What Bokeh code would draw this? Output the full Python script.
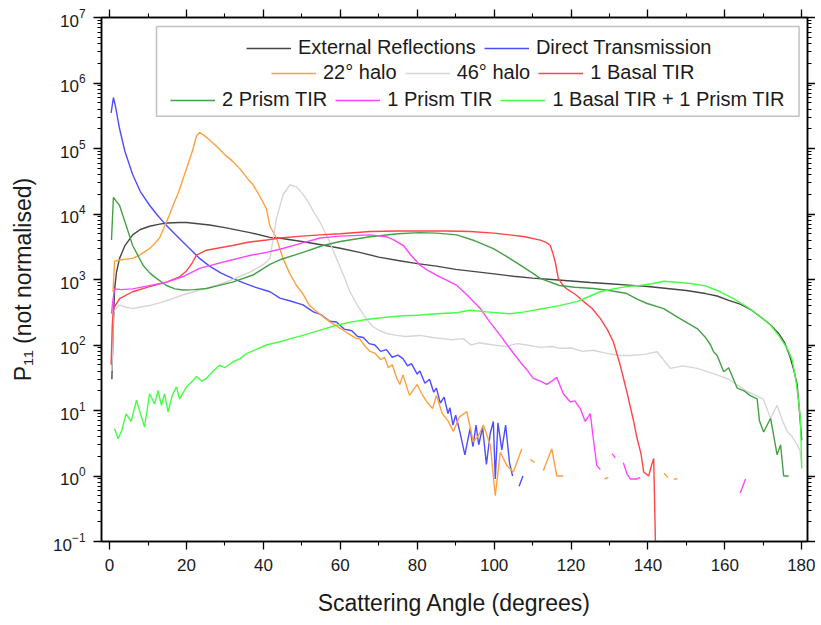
import math
from bokeh.plotting import figure
from bokeh.models import (Range1d, LogAxis, LinearAxis, FixedTicker, Legend,
                          LegendItem, BoxAnnotation, CustomJSTickFormatter)
from bokeh.embed import file_html
from bokeh.resources import INLINE

nan = float("nan")

# ---------------- data ----------------
ext_x = [0.6, 0.9, 1.3, 1.8, 2.6, 4, 6, 8, 10.4, 13, 15, 18.2, 20, 23, 26, 30, 36.5, 41.7, 44, 50, 55, 60, 65, 70,
         75, 80, 85, 90, 95, 100, 105, 110, 115, 120, 125, 130, 135, 140, 145, 150, 155, 158, 161, 164, 167, 170,
         172, 174, 175.5, 177, 178, 178.8, 179.4, 180]
ext_y = [30, 150, 700, 1300, 2100, 3300, 4800, 5800, 6500, 7000, 7300, 7400, 7400, 7100, 6800, 6200, 5200, 4400,
         4300, 3800, 3400, 3000, 2600, 2200, 1950, 1750, 1600, 1430, 1320, 1220, 1120, 1050, 1000, 950, 900, 860,
         820, 780, 730, 680, 610, 560, 480, 420, 340, 250, 200, 150, 110, 65, 40, 25, 10, 3.5]

dir_x = [0.4, 1.0, 1.5, 2.6, 4, 6, 8, 10.4, 12.5, 14.8, 17.5, 20, 23.4, 26, 29, 32, 35, 38, 41.7, 44.3, 47, 50.3,
         53, 55, 57.3, 59, 61, 63, 64.5, 66, 67.5, 69, 70.5, 72, 73.5, 75, 76.3, 77.5, 78.5, 80, 80.7, 82, 83.2, 84.3,
         85, 86, 87, 88, 88.5, 89.3, 90, 91, 92.4, 93.75, 94.5, 95.3, 96, 97, 98, 99, 99.8, 100.3, 101, 102, 103,
         104, 104.8, nan, 106.5, 107.5]
dir_y = [3.5e5, 6.0e5, 4.5e5, 2.0e5, 9.0e4, 4.0e4, 2.2e4, 1.36e4, 9500, 6700, 4600, 3300, 2100, 1600, 1250, 1040,
         880, 760, 650, 520, 470, 410, 320, 290, 230, 225, 175, 165, 135, 130, 105, 100, 80, 85, 65, 70, 62, 48, 52,
         36, 40, 26, 30, 19, 22, 13, 16, 9, 11, 6, 8.5, 5, 2.1, 5.3, 2.8, 6, 3, 5.5, 1.5, 4.5, 6.8, 0.9, 6.5, 2.5, 6,
         1.6, 1.0, nan, 0.7, 1.0]

h22_x = [0.9, 1.3, 3, 6, 8, 10.4, 12, 13, 14.3, 15.5, 16.5, 18, 20, 21.5, 22.6, 23.4, 24.5, 26, 28, 30, 32.1, 34,
         36, 37.3, 39, 40.8, 41.7, 43.4, 45.1, 46.8, 48.6, 50.3, 52, 54.5, 57.3, 60, 62, 64.2, 65, 66.5, 67.7, 69,
         70.5, 71.5, 72.5, 73.5, 74.7, 75.5, 76.3, 78, 80, 81.2, 82.5, 84, 85, 86.5, 88, 89.4, 91, 92.9, 94.6, 96,
         97.2, 99, 100.3, 101.6, 103.3, 105, 107.2, nan, 109.4, 110.5, nan, 112.8, 113.7, 115, 116.3, 118, nan,
         128.7, 129.7, nan, 144.2, 145.2, nan, 146.7, 147.6]
h22_y = [650, 1900, 2000, 2100, 2400, 2960, 3700, 4300, 6500, 9500, 1.35e4, 2.2e4, 4.9e4, 9.0e4, 1.55e5, 1.75e5,
         1.6e5, 1.35e5, 1.05e5, 8.0e4, 6.3e4, 4.8e4, 3.4e4, 2.8e4, 1.9e4, 1.2e4, 6500, 4300, 2100, 1250, 810, 600,
         400, 300, 225, 180, 150, 125, 125, 95, 80, 75, 60, 65, 45, 50, 31, 25, 35, 17, 25, 18, 13.5, 10.7, 17, 9,
         7, 4.8, 8, 9.6, 3.3, 4.2, 6, 3, 0.5, 2.3, 1.45, 1.15, 2.6, nan, 1.8, 1.6, nan, 1.2, 1.67, 2.6, 1.0, 1.0,
         nan, 0.9, 0.95, nan, 1.1, 0.95, nan, 0.9, 0.9]

h46_x = [0.6, 1.0, 2.6, 4, 6, 8, 10.4, 13, 16, 19, 23, 27.8, 32, 36.5, 40, 41.7, 42.5, 43.4, 45.1, 46.9, 48.6, 50,
         51.2, 53, 54.7, 57, 59, 61, 62.5, 64.5, 66.8, 68.5, 70.3, 72, 74.7, 77, 80.7, 84, 86.8, 89, 92, 94, 96,
         99.8, 103, 106, 108.5, 112, 115, 117, 120, 123, 125.8, 129, 132.8, 135.4, 139, 142.4, 144, 145.8, 149,
         152.8, 155, 158, 161, 163, 165.8, 168, 170, 171.9, 173.6, 175, 176.2, 177.5, 178.8, 179.5, 180]
h46_y = [40, 320, 410, 380, 360, 380, 400, 440, 500, 580, 680, 810, 1000, 1300, 1700, 2100, 4000, 8500, 1.95e4,
         2.8e4, 2.6e4, 2.1e4, 1.7e4, 1.1e4, 7600, 4000, 2100, 1100, 650, 400, 250, 190, 165, 150, 140, 135, 140,
         130, 125, 120, 125, 100, 108, 100, 95, 105, 100, 92, 95, 89, 90, 80, 83, 75, 69, 69, 72, 79, 60, 44, 48,
         44, 40, 35, 30, 25, 19.5, 17, 15, 7.6, 12, 7, 4.8, 4, 3, 2.5, 1.5]

bas_x = [0.4, 0.7, 1.0, 2.6, 6, 10.4, 14.8, 18.2, 20, 21.5, 22.6, 25.2, 28, 32, 36, 40.8, 44.3, 50, 54.7, 60,
         67.7, 75, 80.7, 88, 93.75, 100, 104, 108, 112, 113.5, 114.6, 115.3, 115.9, 116.7, 118, 118.9, 121, 123.3,
         125.5, 127.6, 129.5, 131, 132.8, 134.5, 136.3, 137.2, 138.2, 138.9, 140.2, 141, 141.5, 142.2]
bas_y = [50, 200, 360, 510, 650, 780, 910, 1100, 1350, 1800, 2350, 2800, 3000, 3300, 3700, 4000, 4300, 4600,
         4800, 5000, 5400, 5500, 5500, 5500, 5400, 5100, 4800, 4500, 4000, 3700, 3300, 2500, 1850, 1040, 800, 720,
         600, 460, 360, 255, 170, 112, 49, 19.5, 6.8, 3.7, 2.2, 1.15, 1.0, 1.5, 1.85, 0.02]

p2_x = [0.5, 1.0, 1.6, 2.6, 4.3, 6, 8.7, 10.5, 12.2, 14.8, 17, 19.1, 22, 25.2, 28, 32, 37.3, 41.7, 44.3, 50.3, 55.5,
        60, 67.7, 75, 80.7, 85, 90.3, 95, 99.8, 103, 106.8, 110, 112, 117, 121, 125.9, 130, 134.5, 137.2, 139.8,
        144.1, 148, 152.8, 155, 156.3, 157, 158, 159.7, 161, 163.2, 165, 166.5, 168.4, 169, 170.1, 171.9, 173.6,
        174.5, 175.3, 176.6]
p2_y = [4000, 1.8e4, 1.6e4, 1.35e4, 6700, 3300, 1650, 1250, 1040, 810, 720, 690, 700, 730, 800, 910, 1170, 1700,
        2000, 2600, 3300, 3800, 4500, 5000, 5200, 5100, 4800, 3900, 2950, 2300, 1660, 1250, 1040, 810, 760, 730,
        680, 610, 500, 430, 360, 260, 178, 130, 100, 80, 69, 39, 45, 22, 20, 17, 15, 7, 4.7, 7.6, 2.1, 3, 1.0, 1.0]

p1_x = [0.5, 0.8, 1.3, 3, 6, 10, 14.8, 19, 23.4, 28, 32, 36, 40.8, 44.3, 50, 54.7, 60, 67.7, 72, 74, 76.4, 78.5,
        80.7, 83, 85, 88, 90.3, 93, 96.4, 99, 101.6, 104, 106.8, 108.5, 110.2, 112, 113.7, 115, 116.3, 118, 119.8,
        121, 122.4, 123.7, 125, 126, 126.7, 127.6, nan, 130.7, 131.5, nan, 133.6, 134.5, 135.4, 137.2, 138, nan,
        164, 165.4]
p1_y = [300, 450, 720, 700, 720, 800, 910, 1100, 1480, 1750, 2000, 2300, 2600, 2900, 3600, 4300, 4600, 4800, 4500,
        4000, 3300, 2300, 1660, 1350, 1170, 950, 810, 580, 360, 220, 140, 90, 55, 42, 31, 28, 25, 28, 32, 18, 13.5,
        14, 10.7, 6.8, 9, 3, 1.45, 1.25, nan, 2.2, 1.9, nan, 1.6, 1.1, 0.9, 0.9, 0.95, nan, 0.55, 0.9]

bp_x = [1.3, 2.2, 3.2, 4.3, 5.6, 7, 8, 9.1, 10.4, 11.7, 12.6, 13.5, 14.3, 15.2, 16.3, 17.4, 18.2, 20, 21.3, 22.6,
        24, 25.2, 27, 28.6, 30, 32, 34, 35.6, 38, 40.8, 44.3, 47, 50.3, 55, 59, 63, 67.7, 72, 76.4, 80, 85, 90,
        93.75, 98, 104, 108, 112.8, 117, 121.5, 125, 127.6, 131, 134.5, 138, 141, 144.1, 148, 151, 155, 158.8,
        162, 165.8, 169, 171.9, 174, 176.2, 177.5, 178.4, 179.2, 179.7, 180]
bp_y = [5.3, 3.7, 5, 8.9, 6.8, 14.4, 9, 5.6, 18, 12.6, 20, 12, 18, 9.5, 17, 23, 15, 23, 27, 33, 28, 31, 40, 49, 45,
        55, 62, 74, 85, 100, 112, 125, 140, 170, 200, 225, 250, 265, 280, 285, 300, 310, 340, 320, 300, 320, 360,
        400, 460, 560, 650, 720, 780, 810, 860, 940, 900, 870, 800, 650, 520, 380, 280, 200, 140, 89, 60, 31, 14,
        6.8, 1.3]

series = [
    ("External Reflections", ext_x, ext_y, "#474747"),
    ("Direct Transmission", dir_x, dir_y, "#4d4dff"),
    ("22\u00b0 halo", h22_x, h22_y, "#ffa040"),
    ("46\u00b0 halo", h46_x, h46_y, "#d6d6d6"),
    ("1 Basal TIR", bas_x, bas_y, "#ff4545"),
    ("2 Prism TIR", p2_x, p2_y, "#45a045"),
    ("1 Prism TIR", p1_x, p1_y, "#ff45ff"),
    ("1 Basal TIR + 1 Prism TIR", bp_x, bp_y, "#45ff45"),
]
legend_rows = [[0, 1], [2, 3, 4], [5, 6, 7]]

x_major = list(range(0, 181, 20))
x_minor = list(range(10, 180, 20))
y_major = [10.0 ** e for e in range(-1, 8)]
y_minor = [k * 10.0 ** e for e in range(-1, 7) for k in range(2, 10)]

FONT = "Liberation Sans"
TXT = "#1a1a1a"

p = figure(width=815, height=618, y_axis_type="log",
           x_range=Range1d(-2.1, 181.5), y_range=Range1d(0.1, 1e7),
           output_backend="svg", toolbar_location=None,
           min_border_left=101, min_border_right=0, min_border_top=17, min_border_bottom=75)
p.grid.visible = False
p.outline_line_color = "black"
p.outline_line_width = 1.5
p.background_fill_color = "white"
p.border_fill_color = "white"

renderers = []
for name, xs, ys, col in series:
    r = p.line(xs, ys, line_color=col, line_width=1.4)
    renderers.append(r)

top = LinearAxis(formatter=CustomJSTickFormatter(code="return '';"))
right = LogAxis(formatter=CustomJSTickFormatter(code="return '';"))
p.add_layout(top, "above")
p.add_layout(right, "right")

for ax in p.xaxis:
    ax.ticker = FixedTicker(ticks=x_major, minor_ticks=x_minor)
for ax in p.yaxis:
    ax.ticker = FixedTicker(ticks=y_major, minor_ticks=y_minor)

for ax in list(p.xaxis) + list(p.yaxis):
    ax.axis_line_width = 1.5
    ax.axis_line_color = "black"
    ax.major_tick_out = 8
    ax.major_tick_in = 0
    ax.minor_tick_out = 4
    ax.minor_tick_in = 0
    ax.major_tick_line_width = 1.3
    ax.minor_tick_line_width = 1.1
    ax.major_tick_line_color = "black"
    ax.minor_tick_line_color = "black"
    ax.major_label_text_font = FONT
    ax.major_label_text_font_size = "17px"
    ax.major_label_text_color = TXT
    ax.axis_label_text_font = FONT
    ax.axis_label_text_font_size = "23px"
    ax.axis_label_text_font_style = "normal"
    ax.axis_label_text_color = TXT

for ax in (top, right):
    ax.major_label_standoff = 0
    ax.axis_label_standoff = 0

xb = p.below[0]
xb.axis_label = "Scattering Angle (degrees)"
xb.major_label_standoff = 9
xb.axis_label_standoff = 16
yl = p.left[0]
yl.axis_label = "P\u2081\u2081 (not normalised)"
yl.major_label_standoff = 8
yl.axis_label_standoff = 14

# legend frame
box = BoxAnnotation(left=12.2, right=179.3, top=7.3e6, bottom=3.1e5,
                    fill_color="white", fill_alpha=1.0, line_color="#333333", line_width=1.5)
p.add_layout(box)

row_pos = [(145, 482), (170, 457), (69, 430)]
for row, (vx, vy) in zip(legend_rows, row_pos):
    items = [LegendItem(label=series[i][0], renderers=[renderers[i]]) for i in row]
    lg = Legend(items=items, orientation="horizontal", location=(vx, vy),
                padding=0, margin=0, spacing=8, label_standoff=7,
                glyph_width=45, glyph_height=20, label_height=20,
                label_text_font=FONT, label_text_font_size="20px", label_text_color=TXT,
                border_line_color=None, background_fill_alpha=0)
    p.add_layout(lg, "center")

open("out.html", "w").write(file_html(p, INLINE))
